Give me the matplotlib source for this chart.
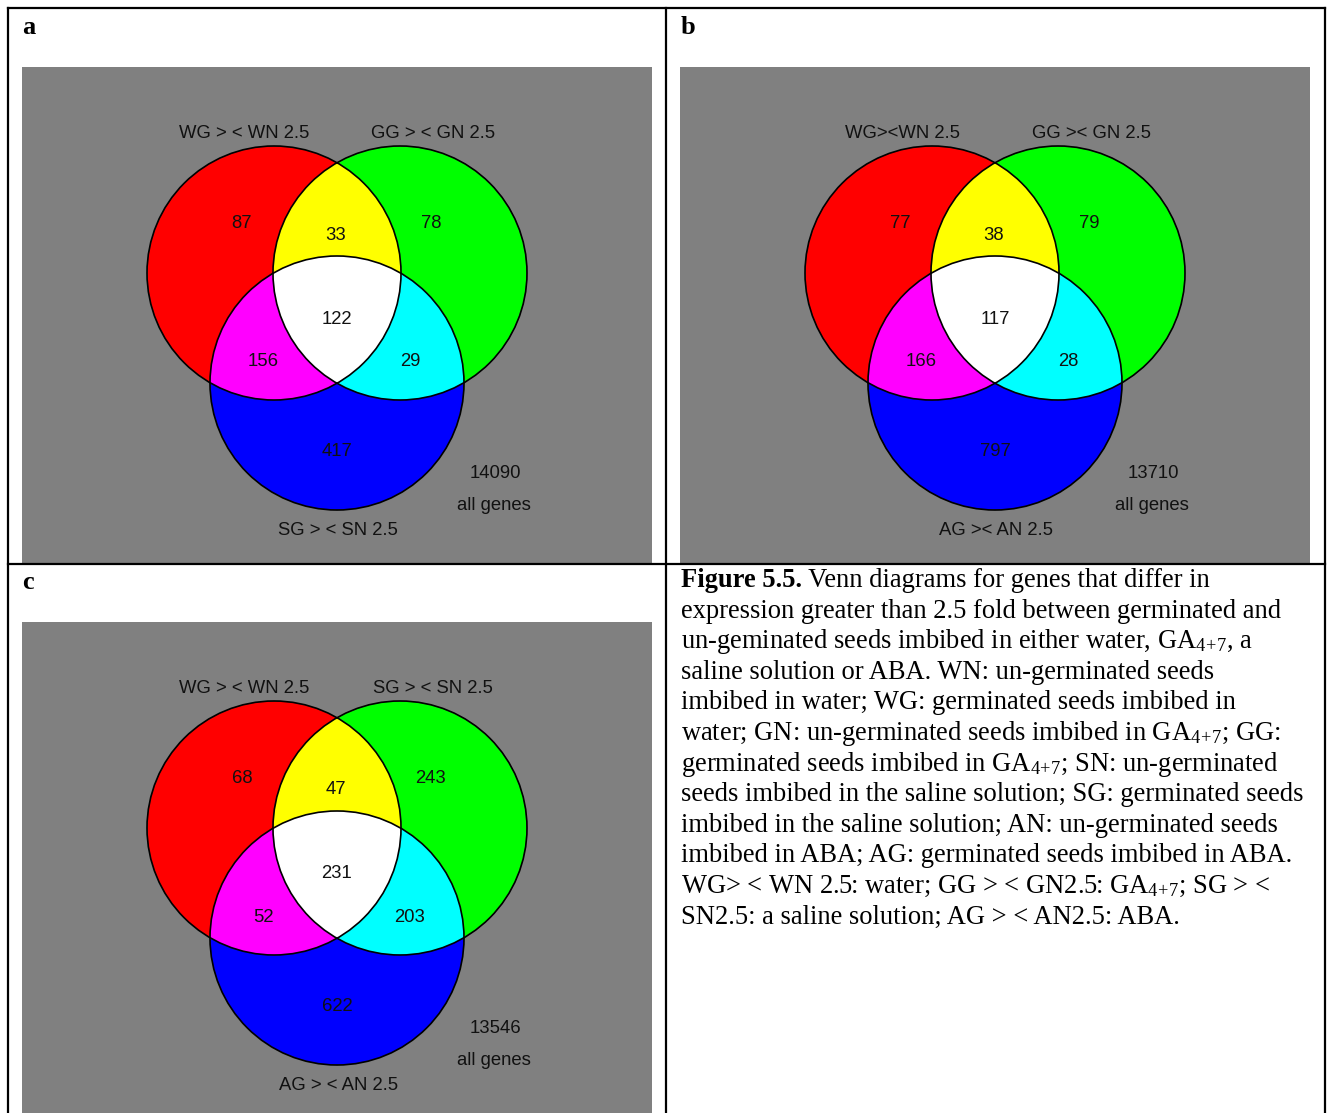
import numpy as np
import matplotlib
matplotlib.use("Agg")
import matplotlib.pyplot as plt
from matplotlib.patches import Circle, Rectangle

plt.rcParams['mathtext.fontset'] = 'custom'
plt.rcParams['mathtext.rm'] = 'Liberation Serif'
plt.rcParams['mathtext.it'] = 'Liberation Serif:italic'

# ---- data ----
panel_letters = ["a", "b", "c"]
set_labels_a = ["WG > < WN 2.5", "GG > < GN 2.5", "SG > < SN 2.5"]
set_labels_b = ["WG><WN 2.5", "GG >< GN 2.5", "AG >< AN 2.5"]
set_labels_c = ["WG > < WN 2.5", "SG > < SN 2.5", "AG > < AN 2.5"]
# region order: only 1, only 2, 1&2, 1&2&3, 1&3, 2&3, only 3
counts_a = [87, 78, 33, 122, 156, 29, 417]
counts_b = [77, 79, 38, 117, 166, 28, 797]
counts_c = [68, 243, 47, 231, 52, 203, 622]
totals = [14090, 13710, 13546]

GA = r"GA$_{4\!+\!7}$"
caption_head = "Figure 5.5."
caption_lines = [
    " Venn diagrams for genes that differ in",
    "expression greater than 2.5 fold between germinated and",
    "un-geminated seeds imbibed in either water, " + GA + ", a",
    "saline solution or ABA. WN: un-germinated seeds",
    "imbibed in water; WG: germinated seeds imbibed in",
    "water; GN: un-germinated seeds imbibed in " + GA + "; GG:",
    "germinated seeds imbibed in " + GA + "; SN: un-germinated",
    "seeds imbibed in the saline solution; SG: germinated seeds",
    "imbibed in the saline solution; AN: un-germinated seeds",
    "imbibed in ABA; AG: germinated seeds imbibed in ABA.",
    "WG> < WN 2.5: water; GG > < GN2.5: " + GA + "; SG > <",
    "SN2.5: a saline solution; AG > < AN2.5: ABA.",
]

W, H = 1331, 1113
fig = plt.figure(figsize=(W / 100, H / 100), dpi=100)
ax = fig.add_axes([0, 0, 1, 1])

GRAY = "#808080"
R = 127
# circle centres relative to gray panel origin
centres = [(252, 206), (378, 206), (315, 316)]
# text offsets (x centre, baseline) relative to panel origin
count_pos = [(220, 161), (409, 161), (314, 172.5), (315, 256.5), (241, 299.5), (388, 299.5), (315, 389)]
label_pos = [(222.5, 71), (411.3, 71), (316.3, 468)]
SANS = "Liberation Sans"
FS = 13.3


def draw_venn(x0, y0, w, h, labels, counts, total):
    ax.add_patch(Rectangle((x0, y0), w, h, facecolor=GRAY, edgecolor="none", zorder=0))
    cs = [(x0 + cx, y0 + cy) for cx, cy in centres]
    xmin = min(c[0] for c in cs) - R - 2
    xmax = max(c[0] for c in cs) + R + 2
    ymin = min(c[1] for c in cs) - R - 2
    ymax = max(c[1] for c in cs) + R + 2
    nx = int((xmax - xmin) * 3)
    ny = int((ymax - ymin) * 3)
    xs = np.linspace(xmin, xmax, nx)
    ys = np.linspace(ymin, ymax, ny)
    X, Y = np.meshgrid(xs, ys)
    img = np.zeros((ny, nx, 4))
    for k, (cx, cy) in enumerate(cs):
        inside = (X - cx) ** 2 + (Y - cy) ** 2 <= R ** 2
        img[..., k] = inside
        img[..., 3] = np.maximum(img[..., 3], inside)
    ax.imshow(img, extent=(xmin, xmax, ymax, ymin), interpolation="antialiased", zorder=1)
    for cx, cy in cs:
        ax.add_patch(Circle((cx, cy), R, fill=False, edgecolor="black", lw=1.2, zorder=2))
    for (px, py), v in zip(count_pos, counts):
        ax.text(x0 + px, y0 + py, str(v), ha="center", va="baseline", fontsize=FS,
                family=SANS, color="#111111", zorder=3)
    for (px, py), s in zip(label_pos, labels):
        ax.text(x0 + px, y0 + py, s, ha="center", va="baseline", fontsize=FS,
                family=SANS, color="#111111", zorder=3)
    ax.text(x0 + 473.3, y0 + 411.3, str(total), ha="center", va="baseline", fontsize=FS,
            family=SANS, color="#111111", zorder=3)
    ax.text(x0 + 472.2, y0 + 443, "all genes", ha="center", va="baseline", fontsize=FS,
            family=SANS, color="#111111", zorder=3)


draw_venn(22, 67, 630, 496, set_labels_a, counts_a, totals[0])
draw_venn(680, 67, 630, 496, set_labels_b, counts_b, totals[1])
draw_venn(22, 622, 630, 491, set_labels_c, counts_c, totals[2])

# panel letters
for (lx, ly), letter in zip([(22, 34), (681, 34), (22, 589)], panel_letters):
    ax.text(lx, ly, letter, ha="left", va="baseline", fontsize=19, fontweight="bold",
            family="Liberation Serif", zorder=4)

# table borders
lw = 1.6
ax.plot([8, 1325], [8, 8], color="black", lw=lw, zorder=5)
ax.plot([8, 8], [8, H], color="black", lw=lw, zorder=5)
ax.plot([1325, 1325], [8, H], color="black", lw=lw, zorder=5)
ax.plot([666, 666], [8, H], color="black", lw=lw, zorder=5)
ax.plot([8, 1325], [564, 564], color="black", lw=lw, zorder=5)

# caption
CFS = 19.1
cx0 = 681
base0 = 587
step = 30.6
head = ax.text(cx0, base0, caption_head, ha="left", va="baseline", fontsize=CFS,
               fontweight="bold", family="Liberation Serif", zorder=4)
ax.set_xlim(0, W)
ax.set_ylim(H, 0)
ax.axis("off")
fig.canvas.draw()
bb = head.get_window_extent()
head_w = bb.width  # pixels == data units here
for i, line in enumerate(caption_lines):
    x = cx0 + head_w if i == 0 else cx0
    ax.text(x, base0 + i * step, line, ha="left", va="baseline", fontsize=CFS,
            family="Liberation Serif", zorder=4)

fig.savefig("out.png", dpi=100)
